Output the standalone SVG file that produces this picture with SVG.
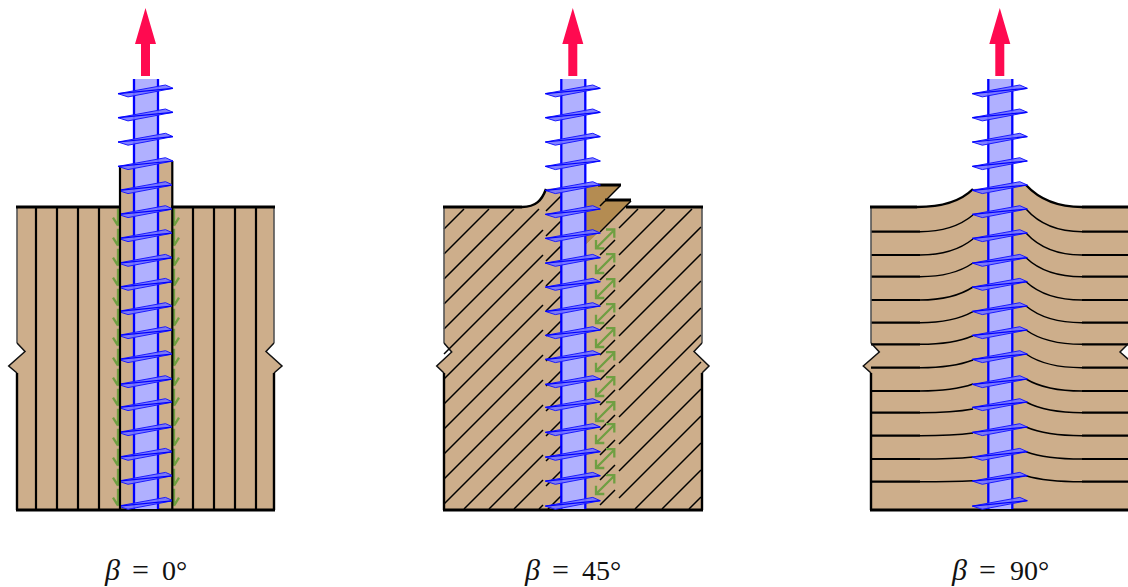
<svg xmlns="http://www.w3.org/2000/svg" xmlns:xlink="http://www.w3.org/1999/xlink" width="1128" height="587" viewBox="0 0 1128 587">
<style>
.wood{fill:#cdae8b;stroke:none}
.side{fill:none;stroke:#555;stroke-width:1.6}
.edge{fill:none;stroke:#000;stroke-width:2.4}
.notch{fill:none;stroke:#111;stroke-width:1.5}
.heavy{fill:none;stroke:#000;stroke-width:3}
.grain{fill:none;stroke:#000;stroke-width:2.2}
.fine{fill:none;stroke:#000;stroke-width:1.5}
.layer{fill:none;stroke:#000;stroke-width:2.2}
.green{fill:none;stroke:#6f9f42;stroke-width:2.3}
.core{fill:#b0b0ff;stroke:none}
.wall{fill:none;stroke:#0000ff;stroke-width:2.3}
.tip{fill:#7474ff;fill-opacity:.9;stroke:#1a1aff;stroke-width:1}
.tipline{fill:none;stroke:#0000ff;stroke-width:1.2}
.pull{fill:#ff0a50;stroke:none}
text{font-family:"Liberation Serif",serif;font-size:28px;fill:#111}
.mi{font-style:italic;font-size:30px}
.eq{font-size:30px}
</style>
<defs>
<g id="thread"><polygon class="tip" points="118,93.7 165.5,85 173,88.3 128,96.9"/><path class="tipline" d="M118 93.7L173 88.3"/></g>
<g id="shaft"><rect class="core" x="134" y="79" width="24" height="430"/><path class="wall" d="M134 79V509M158 79V509"/></g>
<g id="pull"><path class="pull" d="M141 76V44H135L145.5 8L156 44H150V76Z"/></g>
<g id="screw"><use href="#shaft"/><use href="#pull"/>
<use href="#thread"/><use href="#thread" y="24"/><use href="#thread" y="48.3"/><use href="#thread" y="72.7"/><use href="#thread" y="96.7"/><use href="#thread" y="120.7"/><use href="#thread" y="144.7"/><use href="#thread" y="169.4"/><use href="#thread" y="193.4"/><use href="#thread" y="217.7"/><use href="#thread" y="241.7"/><use href="#thread" y="265.7"/><use href="#thread" y="290.7"/><use href="#thread" y="313.7"/><use href="#thread" y="338.7"/><use href="#thread" y="363.4"/><use href="#thread" y="387.4"/><use href="#thread" y="412.4"/></g>
<path id="gl" class="green" d="M118 -17V0M113 -8L118 0"/>
<path id="gr" class="green" d="M174 -17V0M179 -8L174 0"/>
<path id="dbl" class="green" d="M596 248.3L614.3 230M596 240V248.3H604.3M606 229.5H614.3V237.8"/>
<clipPath id="inner"><rect x="121" y="177" width="50.6" height="333"/></clipPath>
</defs>

<g id="panel-0">
<path class="wood" d="M17 207H120V166L172 161V207H274V343L266 351.5L282 366L274 373V510H17V373L8.7 366L25 351.5L17 343Z"/>
<g id="grain-0">
<path class="grain" d="M36 207V510M57 207V510M78 207V510M99 207V510M193 207V510M214 207V510M235 207V510M256 207V510"/>
</g>
<g id="shear-left">
<use href="#gl" y="225.7"/><use href="#gl" y="245.7"/><use href="#gl" y="265.7"/><use href="#gl" y="285.7"/><use href="#gl" y="305.7"/><use href="#gl" y="325.7"/><use href="#gl" y="345.7"/><use href="#gl" y="365.7"/><use href="#gl" y="385.7"/><use href="#gl" y="405.7"/><use href="#gl" y="425.7"/><use href="#gl" y="445.7"/><use href="#gl" y="465.7"/><use href="#gl" y="485.7"/><use href="#gl" y="505.7"/>
</g>
<g id="shear-right">
<use href="#gr" y="225.7"/><use href="#gr" y="245.7"/><use href="#gr" y="265.7"/><use href="#gr" y="285.7"/><use href="#gr" y="305.7"/><use href="#gr" y="325.7"/><use href="#gr" y="345.7"/><use href="#gr" y="365.7"/><use href="#gr" y="385.7"/><use href="#gr" y="405.7"/><use href="#gr" y="425.7"/><use href="#gr" y="445.7"/><use href="#gr" y="465.7"/><use href="#gr" y="485.7"/><use href="#gr" y="505.7"/>
</g>
<path class="grain" d="M120 166V510M172.3 161V510"/>
<path class="side" d="M17 207V343M274 207V343"/>
<path class="notch" d="M17 343L25 351.5L8.7 366L17 373M274 343L266 351.5L282 366L274 373"/>
<path class="edge" d="M17 373V510M274 373V510"/>
<path class="heavy" d="M16 207H120M171 207H275M16 510H275"/>
<use href="#shaft"/><use href="#pull"/>
<use href="#thread"/><use href="#thread" y="24"/><use href="#thread" y="48.3"/><use href="#thread" y="72.7"/>
<g clip-path="url(#inner)"><use href="#thread" y="96.7"/><use href="#thread" y="120.7"/><use href="#thread" y="144.7"/><use href="#thread" y="169.4"/><use href="#thread" y="193.4"/><use href="#thread" y="217.7"/><use href="#thread" y="241.7"/><use href="#thread" y="265.7"/><use href="#thread" y="290.7"/><use href="#thread" y="313.7"/><use href="#thread" y="338.7"/><use href="#thread" y="363.4"/><use href="#thread" y="387.4"/><use href="#thread" y="412.4"/></g>
<text y="580"><tspan class="mi" x="105">β </tspan><tspan class="eq" x="132">= </tspan><tspan x="162">0°</tspan></text>
</g>

<g id="panel-45">
<path class="wood" d="M444 207H520C536 207 542 200 546 189L586 185V245L626 207H702V343L694 351.5L709 366L702 373V510H444V373L436.7 366L451.7 352L444 343Z"/>
<path fill="#b48c52" d="M586 185H621L604 201H631L586 245Z"/>
<g id="grain-45-left">
<path class="fine" d="M444 229l20-20M444 254l45-45M444 279l70-70M444 304l95-95M444 329l99-99M444 354l99-99M444 379l99-99M444 404l99-99M444 429l99-99M444 454l99-99M444 479l99-99M444 504l99-99M464 509l79-79M489 509l54-54M514 509l29-29M539 509l4-4"/>
<path class="fine" d="M546 211l15-15M546 236l15-15M546 261l15-15M546 286l15-15M546 311l15-15M546 336l15-15M546 361l15-15M546 386l15-15M546 411l15-15M546 436l15-15M546 461l15-15M546 486l15-15M548 509l13-13"/>
</g>
<g id="grain-45-right">
<path class="fine" d="M619 228l19-19M619 255l46-46M619 282l73-73M619 309l82-82M619 336l82-82M619 363l82-82M619 390l82-82M619 417l82-82M619 444l82-82M619 471l82-82M619 498l82-82M635 509l66-66M662 509l39-39M689 509l12-12"/>
<path class="fine" d="M600 255l15-15M600 280l15-15M600 305l15-15M600 330l15-15M600 355l15-15M600 380l15-15M600 405l15-15M600 430l15-15M600 455l15-15M600 480l15-15M600 505l15-15"/>
<path class="fine" d="M620 186L600 206M631 201L600 232"/>
</g>
<g id="shear-45">
<use href="#dbl"/><use href="#dbl" y="24.7"/><use href="#dbl" y="49.7"/><use href="#dbl" y="74.7"/><use href="#dbl" y="98.7"/><use href="#dbl" y="122.7"/><use href="#dbl" y="147.7"/><use href="#dbl" y="172.7"/><use href="#dbl" y="194.7"/><use href="#dbl" y="219.7"/><use href="#dbl" y="245.7"/>
</g>
<path class="side" d="M444 207V343M702 207V343"/>
<path class="notch" d="M444 343L451.7 352L436.7 366L444 373M702 343L694 351.5L709 366L702 373"/>
<path class="edge" d="M444 373V510M702 373V510M522 207C536 207 542 200 546 189"/>
<path class="heavy" d="M443 207H522M626 207H703M598 185H621M605 200H631M443 510H703"/>
<use href="#screw" x="427.3"/>
<text y="580"><tspan class="mi" x="525">β </tspan><tspan class="eq" x="552">= </tspan><tspan x="582">45°</tspan></text>
</g>

<g id="panel-90">
<path class="wood" d="M871 207H917C945 207 962 200 973 189L1026 185C1038 198 1056 207 1082 207H1129V343L1120 352L1129 360V373V510H871V373L863.3 366L879.3 352L871 343Z"/>
<g id="layers-left">
<path class="layer" d="M871 231.7H920M871 255H920M871 276.7H920M871 300H920M871 322.7H920M871 344.3H920M871 367.7H920M871 391H920M871 412.7H920M871 435.7H920M871 459H920M871 481.7H920"/>
<path class="fine" d="M920 231.7C946 231.7 961 225 973 215M920 255C946 255 961 248.6 973 239M920 276.7C946 276.7 961 271.2 973 263M920 300C946 300 961 294.8 973 287M920 322.7C946 322.7 961 318.3 973 311.7M920 344.3C946 344.3 961 340.9 973 335.7M920 367.7C946 367.7 961 364.6 973 360M920 391C946 391 961 388.2 973 384M920 412.7C946 412.7 961 411.2 973 409M920 435.7C946 435.7 961 434.6 973 433M920 459C946 459 961 458.2 973 457M920 481.7C946 481.7 961 481.3 973 480.7"/>
</g>
<g id="layers-right">
<path class="layer" d="M1082 231.7H1129M1082 255H1129M1082 276.7H1129M1082 300H1129M1082 322.7H1129M1082 344.3H1129M1082 367.7H1129M1082 391H1129M1082 412.7H1129M1082 435.7H1129M1082 459H1129M1082 481.7H1129"/>
<path class="fine" d="M1026 209C1038 222.6 1056 231.7 1082 231.7M1026 233C1038 246.2 1056 255 1082 255M1026 257.7C1038 269.1 1056 276.7 1082 276.7M1026 281.7C1038 292.7 1056 300 1082 300M1026 306C1038 316 1056 322.7 1082 322.7M1026 330C1038 338.6 1056 344.3 1082 344.3M1026 354C1038 362.2 1056 367.7 1082 367.7M1026 379C1038 386.2 1056 391 1082 391M1026 402C1038 408.4 1056 412.7 1082 412.7M1026 427C1038 432.2 1056 435.7 1082 435.7M1026 451.7C1038 456.1 1056 459 1082 459M1026 475.7C1038 479.3 1056 481.7 1082 481.7"/>
</g>
<path class="side" d="M871 207V343"/>
<path class="notch" d="M871 343L879.3 352L863.3 366L871 373M1129 343L1120 352L1129 360"/>
<path class="edge" d="M871 373V510M917 207C945 207 962 200 973 189M1026 185C1038 198 1056 207 1082 207"/>
<path class="heavy" d="M870 207H917M1082 207H1129M870 510H1129"/>
<use href="#screw" x="854.3"/>
<text y="580"><tspan class="mi" x="952">β </tspan><tspan class="eq" x="979">= </tspan><tspan x="1010">90°</tspan></text>
</g>
</svg>
